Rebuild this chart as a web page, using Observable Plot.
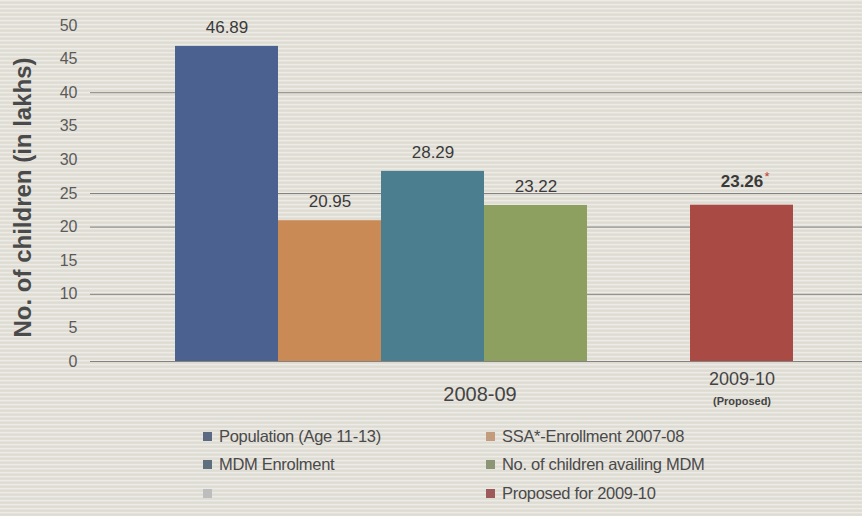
<!DOCTYPE html>
<html>
<head>
<meta charset="utf-8">
<script src="https://cdn.jsdelivr.net/npm/d3@7"></script>
<script src="https://cdn.jsdelivr.net/npm/@observablehq/plot@0.6"></script>
<style>
  html, body { margin: 0; padding: 0; }
  body {
    width: 862px; height: 516px; overflow: hidden;
    background-color: #e3e0d8;
    background-image: repeating-linear-gradient(180deg, rgba(255,255,255,0.35) 0px, rgba(255,255,255,0.35) 1px, rgba(0,0,0,0.03) 2px, rgba(0,0,0,0) 4px);
    font-family: "Liberation Sans", Arial, sans-serif;
  }
  #chart svg { display: block; background: transparent; }
  #legend {
    display: grid;
    grid-template-columns: 283px 300px;
    grid-auto-rows: 28.5px;
    padding-left: 203px;
    margin-top: 2px;
    font-size: 16.5px;
    color: #4a4a4a;
    letter-spacing: -0.3px;
  }
  .item { display: flex; align-items: center; white-space: nowrap; }
  .sw { width: 9px; height: 9px; margin-right: 7px; display: inline-block; }
</style>
</head>
<body>
<div id="chart"></div>
<div id="legend"></div>
<script>
// ---- data ----
const series = ["Population (Age 11-13)", "SSA*-Enrollment 2007-08", "MDM Enrolment", "No. of children availing MDM", "", "Proposed for 2009-10"];
const values = [46.89, 20.95, 28.29, 23.22, null, 23.26];
const valueLabels = ["46.89", "20.95", "28.29", "23.22", "", "23.26"];
const barColors = ["#4b6190", "#c98a56", "#4b7f90", "#8ea05f", "#c8c8c8", "#a94a45"];
const legendColors = ["#5c6983", "#c29c7c", "#5e6f7e", "#8c9677", "#bdbdbd", "#9e5a5a"];
const yTicks = [0, 5, 10, 15, 20, 25, 30, 35, 40, 45, 50];
const gridLines = [0, 10, 20, 25, 40];
const groupLabel1 = "2008-09";
const groupLabel2 = "2009-10";
const groupLabel2b = "(Proposed)";
const yLabel = "No. of children (in lakhs)";

const rows = series.map((s, i) => ({key: "k" + i, series: s, value: values[i], label: valueLabels[i], color: barColors[i]}));
const bars = rows.filter(d => d.value != null);
const keys = rows.map(d => d.key);

const chart = Plot.plot({
  width: 862,
  height: 420,
  marginTop: 25,
  marginBottom: 59,
  marginLeft: 90,
  marginRight: 0,
  style: {fontFamily: "Liberation Sans, Arial, sans-serif", background: "transparent"},
  x: {domain: keys, range: [175, 793], padding: 0, axis: null},
  y: {domain: [0, 50], ticks: yTicks, label: null},
  marks: [
    Plot.ruleY(gridLines, {stroke: "#6a6a6a", strokeWidth: 1, strokeOpacity: 0.8}),
    Plot.barY(bars, {x: "key", y: "value", fill: "color", insetLeft: 0, insetRight: 0}),
    Plot.text(bars.slice(0, 4), {x: "key", y: "value", text: "label", dy: -19, fontSize: 17, fill: "#3a3a3a", letterSpacing: "-0.9px"}),
    Plot.text(bars.slice(4), {x: "key", y: "value", text: "label", dy: -24, fontSize: 17, fontWeight: "bold", fill: "#3a3a3a", letterSpacing: "-0.8px"}),
    Plot.text(bars.slice(4), {x: "key", y: "value", text: d => "*", dx: 25, dy: -28, fontSize: 13, fill: "#c23a3a"}),
    Plot.axisY({ticks: yTicks, tickSize: 0, tickPadding: 13, fontSize: 16, fill: "#5a5a5a", label: null, letterSpacing: "-0.8px"}),
    Plot.text([yLabel], {frameAnchor: "left", textAnchor: "middle", dx: -67, dy: 4, rotate: -90, fontSize: 24, fontWeight: "bold", fill: "#4a4a4a", letterSpacing: "-0.5px"}),
    Plot.text([groupLabel1], {x: () => "k2", frameAnchor: "bottom", dx: 47, dy: 39, fontSize: 20, fill: "#444", letterSpacing: "-0.9px"}),
    Plot.text([groupLabel2], {x: () => "k5", frameAnchor: "bottom", dy: 23, fontSize: 18, fill: "#444", letterSpacing: "-0.5px"}),
    Plot.text([groupLabel2b], {x: () => "k5", frameAnchor: "bottom", dy: 43, fontSize: 11, fontWeight: "bold", fill: "#444"})
  ]
});
document.getElementById("chart").appendChild(chart);

const legend = document.getElementById("legend");
series.forEach((s, i) => {
  const it = document.createElement("div");
  it.className = "item";
  const sw = document.createElement("span");
  sw.className = "sw";
  sw.style.background = legendColors[i];
  it.appendChild(sw);
  it.appendChild(document.createTextNode(s));
  legend.appendChild(it);
});
</script>
</body>
</html>
